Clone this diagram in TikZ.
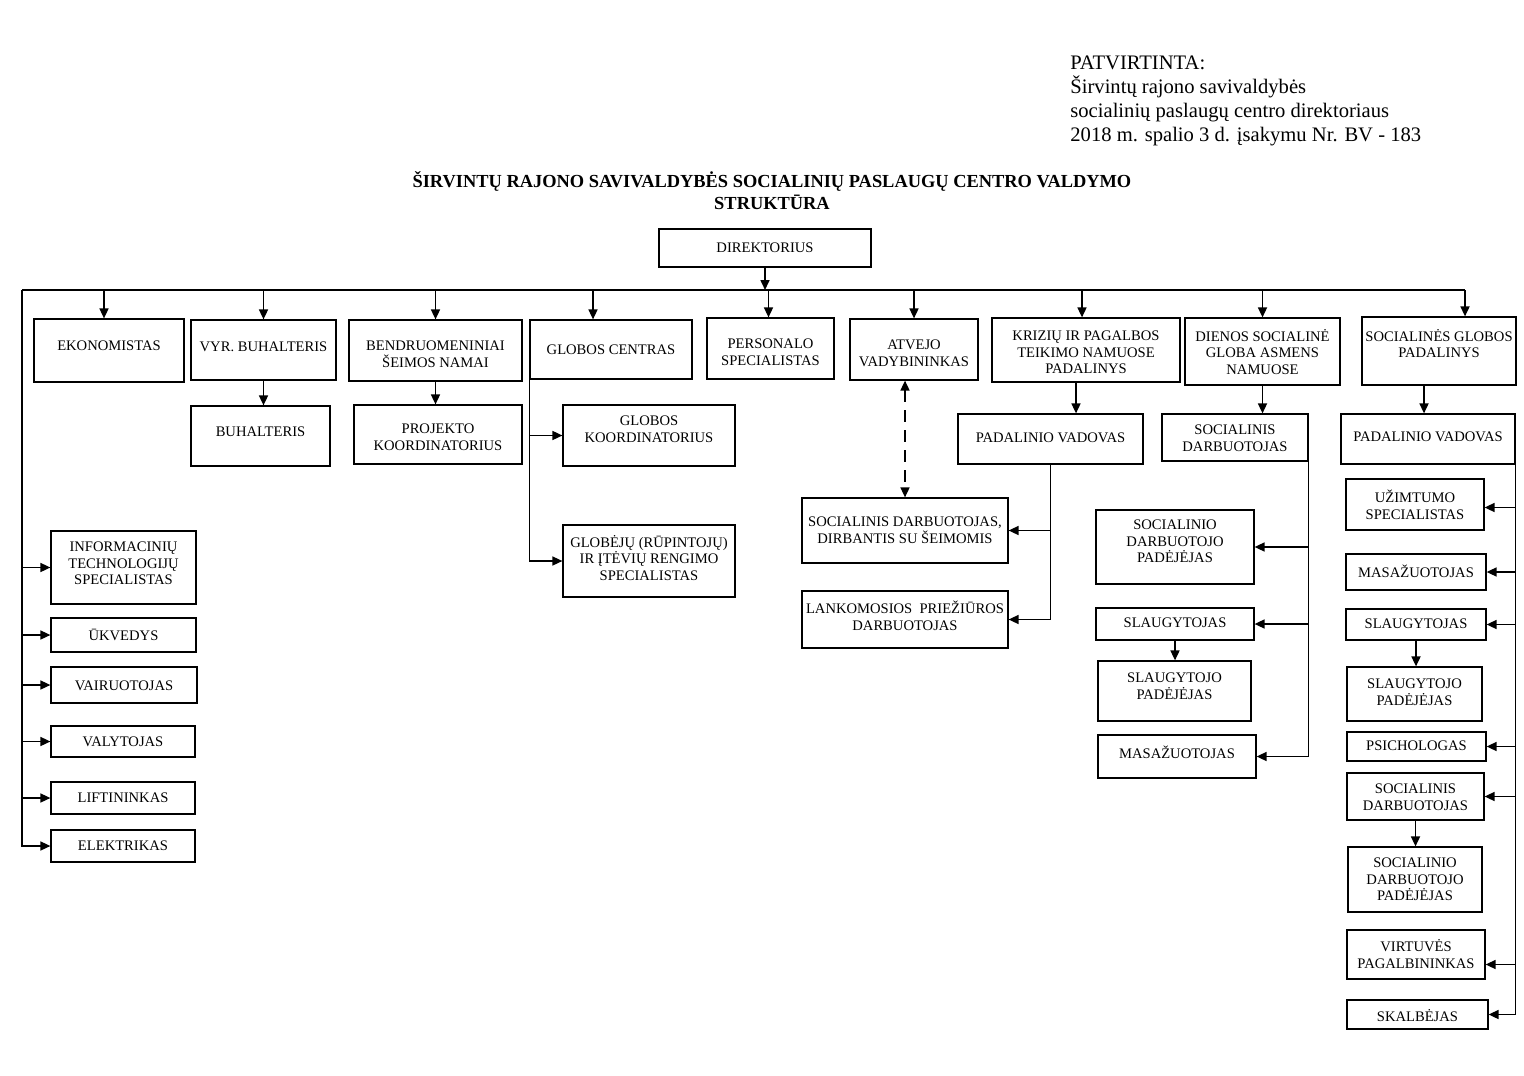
\documentclass[tikz,border=0pt]{standalone}
\usepackage{fontspec}
\setmainfont{Liberation Serif}
\usetikzlibrary{arrows.meta,fit}
\tikzset{
  box/.style={draw, line width=0.6pt, inner sep=0pt, rectangle},
  lbl/.style={font=\fontsize{7.3}{8.3}\selectfont, align=center, inner sep=0pt},
  arr/.style={line width=0.8pt, -{Triangle[length=5pt,width=4.5pt]}},
  arrboth/.style={line width=0.8pt, dash pattern=on 6pt off 4pt, {Triangle[length=5pt,width=4.5pt]}-{Triangle[length=5pt,width=4.5pt]}},
  ln/.style={line width=0.8pt},
  hdr/.style={font=\fontsize{10.3}{12}\selectfont, anchor=base west, inner sep=0pt},
  ttl/.style={font=\fontsize{9.2}{10}\selectfont\bfseries, inner sep=0pt}
}
\newcommand\bx[7]{%
  \node[box, fit={(#2,#3)(#4,#5)}] (#1) {};
  \node[lbl] (#1-t) at ({(#2+#4)/2},#6) {#7};}
\begin{document}
\begin{tikzpicture}[x=0.5pt,y=-0.5pt]
\useasboundingbox[fill=white] (0,0) rectangle (1524,1075);

% header
\node[hdr] (h1) at (1070,70) {PATVIRTINTA:};
\node[hdr] (h2) at (1070,94) {Širvintų rajono savivaldybės};
\node[hdr] (h3) at (1070,118) {socialinių paslaugų centro direktoriaus};
\node[hdr] (h4) at (1070,142) {2018 m. spalio 3 d. įsakymu Nr. BV - 183};

% title
\node[ttl] (t1) at (772,181) {ŠIRVINTŲ RAJONO SAVIVALDYBĖS SOCIALINIŲ PASLAUGŲ CENTRO VALDYMO};
\node[ttl] (t2) at (772,202) {STRUKTŪRA};

% top
\bx{dir}{659}{229}{871}{267}{248}{DIREKTORIUS}
\bx{eko}{34}{319}{184}{382}{346}{EKONOMISTAS}
\bx{vyr}{191}{320}{336}{380}{347}{VYR. BUHALTERIS}
\bx{bsn}{349}{320}{522}{381}{354.5}{BENDRUOMENINIAI\\ŠEIMOS NAMAI}
\bx{gc}{530}{320}{692}{379}{350}{GLOBOS CENTRAS}
\bx{pers}{707}{318}{834}{379}{352.5}{PERSONALO\\SPECIALISTAS}
\bx{atv}{850}{319}{978}{380}{353.5}{ATVEJO\\VADYBININKAS}
\bx{kriz}{992}{318}{1180}{382}{352.5}{KRIZIŲ IR PAGALBOS\\TEIKIMO NAMUOSE\\PADALINYS}
\bx{dien}{1185}{318}{1340}{385}{352}{DIENOS SOCIALINĖ\\GLOBA ASMENS\\NAMUOSE}
\bx{sgp}{1362}{317}{1516}{385}{343.5}{SOCIALINĖS GLOBOS\\PADALINYS}

% second level
\bx{buh}{191}{406}{330}{466}{432}{BUHALTERIS}
\bx{proj}{354}{405}{522}{464}{437.5}{PROJEKTO\\KOORDINATORIUS}
\bx{gk}{563}{405}{735}{466}{429}{GLOBOS\\KOORDINATORIUS}
\bx{gir}{563}{525}{735}{597}{558}{GLOBĖJŲ (RŪPINTOJŲ)\\IR ĮTĖVIŲ RENGIMO\\SPECIALISTAS}
\bx{sdd}{802}{498}{1008}{563}{530}{SOCIALINIS DARBUOTOJAS,\\DIRBANTIS SU ŠEIMOMIS}
\bx{lank}{802}{591}{1008}{648}{615.5}{LANKOMOSIOS~ PRIEŽIŪROS\\DARBUOTOJAS}
\bx{pva}{958}{414}{1143}{464}{438}{PADALINIO VADOVAS}
\bx{sda}{1162}{414}{1308}{461}{438.5}{SOCIALINIS\\DARBUOTOJAS}
\bx{sdpa}{1096}{510}{1254}{584}{541.5}{SOCIALINIO\\DARBUOTOJO\\PADĖJĖJAS}
\bx{sla}{1096}{608}{1254}{640}{623}{SLAUGYTOJAS}
\bx{slpa}{1098}{661}{1251}{721}{686}{SLAUGYTOJO\\PADĖJĖJAS}
\bx{masa}{1098}{735}{1256}{778}{752}{MASAŽUOTOJAS}

% right column
\bx{pvb}{1341}{414}{1515}{464}{437}{PADALINIO VADOVAS}
\bx{uzb}{1346}{479}{1484}{530}{504.5}{UŽIMTUMO\\SPECIALISTAS}
\bx{masb}{1346}{554}{1486}{590}{571}{MASAŽUOTOJAS}
\bx{slb}{1346}{609}{1486}{640}{624}{SLAUGYTOJAS}
\bx{slpb}{1347}{667}{1482}{721}{692}{SLAUGYTOJO\\PADĖJĖJAS}
\bx{psib}{1347}{732}{1486}{761}{746}{PSICHOLOGAS}
\bx{sdb}{1347}{773}{1484}{820}{797}{SOCIALINIS\\DARBUOTOJAS}
\bx{sdpb}{1348}{847}{1482}{912}{879.5}{SOCIALINIO\\DARBUOTOJO\\PADĖJĖJAS}
\bx{virb}{1347}{930}{1485}{979}{954}{VIRTUVĖS\\PAGALBININKAS}
\bx{skb}{1347}{1000}{1488}{1029}{1016}{SKALBĖJAS}

% left column
\bx{its}{51}{531}{196}{604}{563.5}{INFORMACINIŲ\\TECHNOLOGIJŲ\\SPECIALISTAS}
\bx{ukv}{51}{618}{196}{652}{635}{ŪKVEDYS}
\bx{vai}{51}{667}{197}{703}{686}{VAIRUOTOJAS}
\bx{val}{51}{726}{195}{757}{742}{VALYTOJAS}
\bx{lif}{51}{782}{195}{814}{798}{LIFTININKAS}
\bx{ele}{51}{830}{195}{862}{846}{ELEKTRIKAS}

% bus
\coordinate (busL) at (22,290);
\coordinate (busR) at (1465,290);
\draw[arr] (dir.south) -- (dir.south |- busL);
\draw[ln] (busL) -- (busR);
\draw[arr] ([xshift=-2.5pt]eko.north |- busL) -- ([xshift=-2.5pt]eko.north);
\draw[arr] (vyr.north |- busL) -- (vyr.north);
\draw[arr] (bsn.north |- busL) -- (bsn.north);
\draw[arr] ([xshift=-9pt]gc.north |- busL) -- ([xshift=-9pt]gc.north);
\draw[arr] ([xshift=-1pt]pers.north |- busL) -- ([xshift=-1pt]pers.north);
\draw[arr] (atv.north |- busL) -- (atv.north);
\draw[arr] ([xshift=-2pt]kriz.north |- busL) -- ([xshift=-2pt]kriz.north);
\draw[arr] (dien.north |- busL) -- (dien.north);
\draw[arr] (busR) -- (busR |- sgp.north);

% left column
\draw[arr] (busL) |- (ele.west);
\foreach \n in {its,ukv,vai,val,lif}{\draw[arr] (busL |- \n.west) -- (\n.west);}

% second level
\draw[arr] (vyr.south) -- (vyr.south |- buh.north);
\draw[arr] (bsn.south) -- (bsn.south |- proj.north);
\draw[arr] (gc.south west) |- (gir.west);
\draw[arr] (gc.south west |- gk.west) -- (gk.west);
\draw[arrboth] (sdd.north |- atv.south) -- (sdd.north);
\draw[arr] ([xshift=-5pt]kriz.south) -- ([xshift=-5pt]kriz.south |- pva.north);
\draw[arr] (pva.south) |- (lank.east);
\draw[arr] (pva.south |- sdd.east) -- (sdd.east);
\draw[arr] (dien.south) -- (dien.south |- sda.north);
\draw[arr] (sda.south east) |- (masa.east);
\draw[arr] (sda.south east |- sdpa.east) -- (sdpa.east);
\draw[arr] (sda.south east |- sla.east) -- (sla.east);
\draw[arr] (sla.south) -- (sla.south |- slpa.north);

% right column
\coordinate (uzbA) at ([yshift=-1.5pt]uzb.east);
\coordinate (virbA) at ([yshift=-5pt]virb.east);
\draw[arr] ([xshift=-7.5pt]sgp.south) -- ([xshift=-7.5pt]sgp.south |- pvb.north);
\draw[arr] (pvb.south east) |- (skb.east);
\foreach \n in {masb,slb,psib,sdb}{\draw[arr] (pvb.south east |- \n.east) -- (\n.east);}
\draw[arr] (pvb.south east |- uzbA) -- (uzbA);
\draw[arr] (pvb.south east |- virbA) -- (virbA);
\draw[arr] (slb.south) -- (slb.south |- slpb.north);
\draw[arr] (sdb.south) -- (sdb.south |- sdpb.north);
\end{tikzpicture}
\end{document}
